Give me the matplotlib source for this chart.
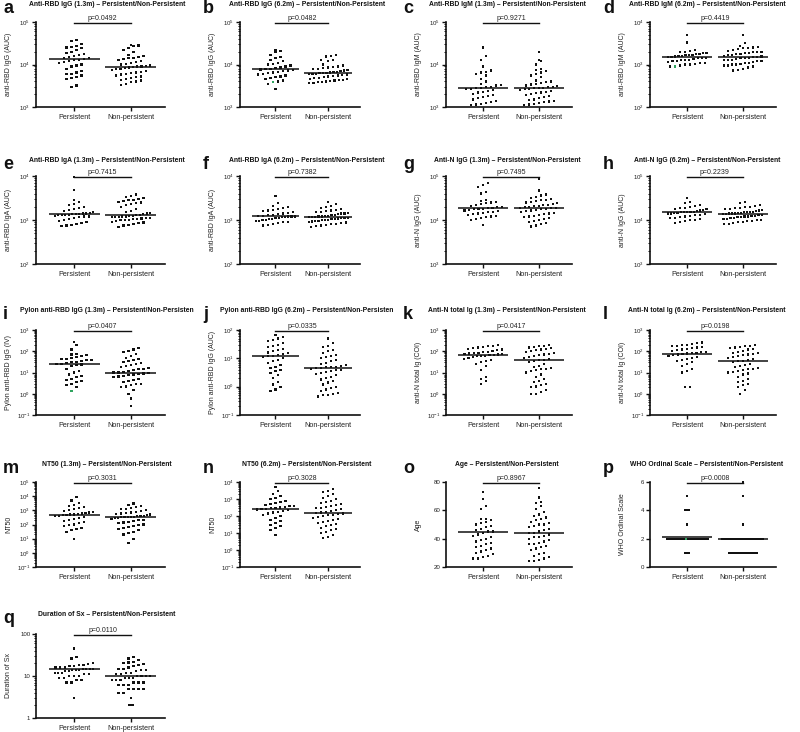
import numpy as np
import matplotlib
matplotlib.use("Agg")
import matplotlib.pyplot as plt
from matplotlib.ticker import LogLocator, NullFormatter, FuncFormatter, FixedLocator
import matplotlib.transforms as mtransforms

plt.rcParams['font.family'] = ['Liberation Sans', 'DejaVu Sans']

groups = ["Persistent", "Non-persistent"]

# ---------------- data ----------------
a_p = [37000, 35000, 30000, 27000, 26000, 25000, 24000, 22000, 20000, 19000, 18000, 17000, 16000, 15000, 14500, 14000, 13500, 13000, 12500, 12000, 11500, 11000, 10000, 9500, 9000, 8000, 7000, 6500, 6000, 6000, 5500, 5000, 4800, 4500, 3200, 3000]
a_np = [29000, 28000, 27000, 24000, 22000, 20000, 17000, 16000, 15000, 14500, 14000, 13500, 13000, 12000, 11500, 11000, 10500, 10000, 9500, 9200, 9000, 9000, 8800, 8500, 8300, 8000, 7800, 7500, 7000, 6800, 6500, 6200, 6000, 5800, 5500, 5200, 5000, 4800, 4500, 4300, 4200, 4000, 3800, 3500, 3300]
b_p = [22000, 21000, 20000, 17000, 15000, 14000, 13000, 12000, 11000, 10500, 10000, 9500, 9000, 8500, 8200, 8000, 7800, 7600, 7400, 7200, 7000, 6800, 6500, 6200, 6000, 5800, 5500, 5200, 5000, 4800, 4500, 4200, 4000, 3800, 3500, 2600]
b_np = [16500, 16000, 15500, 13000, 12500, 12000, 10000, 9500, 9000, 8800, 8500, 8200, 8000, 7800, 7500, 7200, 7000, 6800, 6600, 6500, 6400, 6300, 6200, 6100, 6000, 5900, 5800, 5600, 5500, 5300, 5200, 5000, 4900, 4800, 4600, 4500, 4400, 4300, 4200, 4100, 4000, 3900, 3800, 3700, 3600]
c_p = [25000, 16000, 13000, 9000, 7200, 6800, 6500, 6000, 5500, 4500, 4000, 3500, 3300, 3200, 3000, 2900, 2800, 2800, 2700, 2600, 2500, 2400, 2300, 2200, 2000, 1900, 1800, 1700, 1600, 1500, 1400, 1300, 1250, 1200, 1150, 1100]
c_np = [20000, 13000, 12000, 10000, 8000, 7500, 7000, 6500, 6000, 5500, 5000, 4200, 4000, 3800, 3600, 3500, 3400, 3200, 3100, 3000, 2900, 2850, 2800, 2750, 2700, 2600, 2500, 2400, 2300, 2200, 2100, 2000, 1900, 1800, 1700, 1600, 1500, 1450, 1400, 1350, 1300, 1250, 1200, 1150, 1100]
d_p = [5000, 3300, 2200, 2100, 2000, 2000, 1900, 1900, 1800, 1800, 1700, 1700, 1650, 1600, 1600, 1550, 1500, 1500, 1450, 1400, 1400, 1350, 1300, 1300, 1250, 1200, 1200, 1150, 1100, 1100, 1050, 1000, 1000, 950, 900, 900]
d_np = [5000, 3200, 2700, 2600, 2500, 2400, 2400, 2300, 2200, 2100, 2000, 2000, 1950, 1900, 1850, 1800, 1750, 1700, 1650, 1600, 1550, 1500, 1500, 1450, 1400, 1400, 1350, 1300, 1300, 1250, 1200, 1200, 1150, 1100, 1100, 1050, 1000, 1000, 950, 950, 900, 850, 800, 750, 720]
e_p = [9300, 4800, 2900, 2600, 2300, 2200, 2000, 1900, 1800, 1700, 1600, 1500, 1450, 1400, 1400, 1380, 1350, 1350, 1320, 1300, 1300, 1280, 1250, 1200, 1200, 1150, 1100, 1050, 1000, 950, 900, 850, 800, 780, 750, 720]
e_np = [3800, 3500, 3300, 3200, 3000, 2900, 2800, 2700, 2600, 2500, 2400, 2300, 2200, 2000, 1800, 1600, 1500, 1450, 1400, 1350, 1300, 1280, 1250, 1250, 1200, 1200, 1180, 1150, 1150, 1100, 1100, 1080, 1050, 1050, 1000, 1000, 980, 950, 900, 880, 850, 800, 780, 750, 700]
f_p = [3500, 2400, 2100, 2000, 1900, 1800, 1700, 1650, 1600, 1500, 1450, 1400, 1350, 1300, 1300, 1250, 1250, 1200, 1200, 1200, 1150, 1150, 1100, 1100, 1050, 1050, 1000, 1000, 950, 950, 900, 900, 850, 800, 780, 750]
f_np = [2600, 2300, 2100, 2000, 1900, 1800, 1700, 1650, 1600, 1550, 1500, 1450, 1400, 1400, 1350, 1300, 1300, 1250, 1250, 1200, 1200, 1180, 1150, 1150, 1120, 1100, 1100, 1080, 1050, 1050, 1000, 1000, 980, 950, 950, 920, 900, 880, 850, 820, 800, 780, 750, 720, 700]
g_p = [68000, 62000, 57000, 44000, 40000, 28000, 27000, 26000, 25000, 24000, 23000, 22000, 21000, 20000, 19500, 19000, 18500, 18000, 18000, 17500, 17000, 16500, 16000, 15500, 15000, 14500, 14000, 13500, 13000, 12500, 12000, 11500, 11000, 10500, 10000, 7800]
g_np = [84000, 47000, 38000, 36000, 34000, 32000, 30000, 29000, 28000, 27000, 26000, 25000, 24000, 23000, 22000, 21500, 21000, 20500, 20000, 19500, 19000, 18500, 18500, 18000, 17500, 17000, 16500, 16000, 15000, 14500, 14000, 13500, 13000, 12500, 12000, 11500, 11000, 10500, 10000, 9500, 9000, 8500, 8000, 7500, 7100]
h_p = [32000, 26000, 24000, 22000, 21000, 20000, 19000, 18500, 18000, 17500, 17000, 16500, 16000, 15500, 15500, 15000, 15000, 15000, 14500, 14500, 14000, 14000, 13500, 13000, 13000, 12500, 12000, 11500, 11000, 11000, 10500, 10000, 10000, 9500, 9000, 8500]
h_np = [26000, 24000, 22000, 21000, 20000, 19500, 19000, 18500, 18000, 17500, 17000, 16500, 16000, 15500, 15500, 15000, 15000, 14500, 14500, 14000, 14000, 14000, 13500, 13500, 13000, 13000, 12500, 12500, 12000, 12000, 11500, 11500, 11000, 11000, 10500, 10500, 10000, 10000, 9500, 9500, 9000, 9000, 8500, 8200, 8000]
i_p = [270, 190, 120, 75, 70, 65, 60, 55, 50, 45, 42, 40, 38, 35, 32, 30, 28, 26, 25, 24, 22, 20, 15, 12, 10, 8, 7, 6, 5, 4.5, 4, 3.5, 3, 2.5, 2, 1.3]
i_np = [140, 120, 100, 90, 75, 60, 50, 45, 40, 35, 30, 28, 25, 22, 20, 18, 16, 15, 14, 13, 12, 11, 10, 10, 9.5, 9, 8.5, 8, 7.5, 7, 6.5, 6, 5, 4.5, 4, 3.5, 3, 2.8, 2.5, 2.2, 2, 1.5, 1, 0.6, 0.26]
j_p = [65, 55, 50, 45, 40, 35, 30, 28, 25, 22, 20, 18, 16, 15, 14, 13, 12, 12, 11, 10, 9, 8, 7, 6, 5, 4.5, 4, 3.5, 3, 2.5, 2, 1.5, 1.2, 1, 0.8, 0.7]
j_np = [50, 35, 28, 25, 20, 18, 15, 13, 12, 11, 10, 9, 8, 7, 6.5, 6, 5.5, 5, 5, 4.8, 4.5, 4.5, 4.2, 4, 3.8, 3.5, 3.2, 3, 2.8, 2.5, 2.2, 2, 1.8, 1.6, 1.4, 1.2, 1, 0.9, 0.8, 0.7, 0.6, 0.55, 0.5, 0.5, 0.45]
k_p = [200, 180, 170, 160, 150, 140, 130, 120, 110, 100, 95, 90, 85, 80, 78, 75, 72, 70, 68, 65, 62, 60, 58, 55, 50, 45, 40, 35, 30, 25, 20, 13, 6, 5, 4, 3]
k_np = [190, 180, 170, 160, 150, 140, 130, 120, 110, 100, 90, 80, 75, 70, 65, 60, 55, 50, 45, 40, 38, 35, 30, 25, 20, 18, 16, 15, 14, 13, 12, 10, 8, 6, 5, 4, 3.5, 3, 2.5, 2.2, 2, 1.5, 1.2, 1, 1]
l_p = [260, 240, 220, 200, 190, 180, 170, 160, 150, 140, 130, 120, 110, 100, 95, 90, 85, 80, 78, 75, 70, 65, 60, 55, 50, 45, 40, 35, 30, 25, 20, 15, 12, 10, 2, 2]
l_np = [190, 180, 170, 160, 150, 140, 130, 120, 100, 90, 85, 80, 75, 70, 65, 60, 55, 50, 45, 40, 35, 34, 30, 25, 22, 20, 18, 16, 15, 14, 13, 12, 11, 10, 9, 8, 6, 5, 4, 3.5, 3, 2.5, 2, 1.5, 1]
m_p = [9000, 5000, 3500, 2500, 2000, 1800, 1500, 1200, 1000, 900, 800, 700, 650, 600, 550, 500, 500, 480, 450, 420, 400, 350, 300, 250, 200, 180, 150, 120, 100, 90, 80, 60, 50, 40, 30, 10]
m_np = [3000, 2500, 2000, 1800, 1500, 1300, 1200, 1000, 900, 800, 700, 650, 600, 550, 500, 450, 420, 400, 380, 360, 350, 340, 330, 320, 300, 280, 250, 220, 200, 180, 160, 140, 120, 100, 90, 80, 70, 60, 50, 40, 30, 25, 20, 10, 5]
n_p = [5000, 3000, 2000, 1500, 1200, 1000, 800, 700, 600, 500, 450, 400, 380, 350, 320, 300, 280, 260, 250, 240, 220, 200, 180, 160, 140, 120, 100, 80, 60, 50, 40, 30, 25, 20, 15, 8]
n_np = [4000, 3000, 2500, 2000, 1500, 1200, 1000, 800, 700, 600, 500, 450, 400, 350, 300, 280, 250, 220, 200, 180, 160, 150, 140, 130, 120, 110, 100, 90, 80, 70, 60, 50, 45, 40, 35, 30, 25, 20, 18, 15, 12, 10, 8, 6, 5]
o_p = [73, 68, 63, 61, 54, 54, 53, 52, 51, 50, 49, 48, 47, 46, 45, 45, 44, 43, 42, 41, 40, 39, 38, 37, 36, 35, 34, 33, 32, 31, 30, 29, 28, 27, 26, 26]
o_np = [76, 69, 66, 65, 63, 61, 59, 57, 56, 55, 54, 53, 52, 51, 50, 50, 49, 48, 47, 46, 45, 44, 44, 43, 42, 41, 41, 40, 39, 38, 37, 36, 36, 35, 34, 33, 32, 30, 29, 28, 27, 26, 25, 24, 24]
p_p = [5, 4, 4, 4, 3] + [2] * 28 + [1, 1, 1]
p_np = [6, 5, 3] + [2] * 27 + [1] * 15
q_p = [45, 28, 26, 20, 19, 18, 18, 17, 17, 16, 16, 16, 15, 15, 15, 15, 14, 14, 14, 13, 13, 12, 12, 12, 11, 11, 10, 10, 10, 9, 9, 8, 8, 7, 7, 3]
q_np = [28, 26, 24, 22, 21, 20, 19, 18, 17, 16, 15, 15, 14, 14, 13, 12, 12, 11, 11, 10, 10, 10, 10, 9, 9, 9, 8, 8, 8, 7, 7, 7, 6, 6, 6, 5, 5, 5, 5, 4, 4, 3, 2, 2, 2]

# center (median) lines: [Persistent, Non-persistent]
centers = {
    'a': [13300, 8900], 'b': [7700, 6400], 'c': [2750, 2750], 'd': [1500, 1500],
    'e': [1350, 1280], 'f': [1230, 1180], 'g': [18600, 18600], 'h': [15000, 14000],
    'i': [26, 10], 'j': [12, 4.5], 'k': [68, 39], 'l': [78, 35],
    'm': [500, 350], 'n': [250, 150], 'o': [45, 44.3], 'p': [2.15, 2.0], 'q': [15, 10],
}
pvals = {'a': '0.0492', 'b': '0.0482', 'c': '0.9271', 'd': '0.4419', 'e': '0.7415', 'f': '0.7382',
         'g': '0.7495', 'h': '0.2239', 'i': '0.0407', 'j': '0.0335', 'k': '0.0417', 'l': '0.0198',
         'm': '0.3031', 'n': '0.3028', 'o': '0.8967', 'p': '0.0008', 'q': '0.0110'}
titles = {
    'a': "Anti-RBD IgG (1.3m) – Persistent/Non-Persistent",
    'b': "Anti-RBD IgG (6.2m) – Persistent/Non-Persistent",
    'c': "Anti-RBD IgM (1.3m) – Persistent/Non-Persistent",
    'd': "Anti-RBD IgM (6.2m) – Persistent/Non-Persistent",
    'e': "Anti-RBD IgA (1.3m) – Persistent/Non-Persistent",
    'f': "Anti-RBD IgA (6.2m) – Persistent/Non-Persistent",
    'g': "Anti-N IgG (1.3m) – Persistent/Non-Persistent",
    'h': "Anti-N IgG (6.2m) – Persistent/Non-Persistent",
    'i': "Pylon anti-RBD IgG (1.3m) – Persistent/Non-Persisten",
    'j': "Pylon anti-RBD IgG (6.2m) – Persistent/Non-Persisten",
    'k': "Anti-N total Ig (1.3m) – Persistent/Non-Persistent",
    'l': "Anti-N total Ig (6.2m) – Persistent/Non-Persistent",
    'm': "NT50 (1.3m) – Persistent/Non-Persistent",
    'n': "NT50 (6.2m) – Persistent/Non-Persistent",
    'o': "Age – Persistent/Non-Persistent",
    'p': "WHO Ordinal Scale – Persistent/Non-Persistent",
    'q': "Duration of Sx – Persistent/Non-Persistent",
}
ylabels = {
    'a': "anti-RBD IgG (AUC)", 'b': "anti-RBD IgG (AUC)", 'c': "anti-RBD IgM (AUC)", 'd': "anti-RBD IgM (AUC)",
    'e': "anti-RBD IgA (AUC)", 'f': "anti-RBD IgA (AUC)", 'g': "anti-N IgG (AUC)", 'h': "anti-N IgG (AUC)",
    'i': "Pylon anti-RBD IgG (IV)", 'j': "Pylon anti-RBD IgG (AUC)", 'k': "anti-N total Ig (COI)",
    'l': "anti-N total Ig (COI)", 'm': "NT50", 'n': "NT50", 'o': "Age", 'p': "WHO Ordinal Scale",
    'q': "Duration of Sx",
}
ylims = {
    'a': (1e3, 1e5), 'b': (1e3, 1e5), 'c': (1e3, 1e5), 'd': (1e2, 1e4), 'e': (1e2, 1e4), 'f': (1e2, 1e4),
    'g': (1e3, 1e5), 'h': (1e3, 1e5), 'i': (1e-1, 1e3), 'j': (1e-1, 1e2), 'k': (1e-1, 1e3), 'l': (1e-1, 1e3),
    'm': (1e-1, 1e5), 'n': (1e-1, 1e4), 'o': (20, 80), 'p': (0, 6), 'q': (1, 100),
}
green_point = {'b': 3800, 'd': 900, 'i': 1.3, 'p': 2}
data = {
    'a': (a_p, a_np), 'b': (b_p, b_np), 'c': (c_p, c_np), 'd': (d_p, d_np), 'e': (e_p, e_np),
    'f': (f_p, f_np), 'g': (g_p, g_np), 'h': (h_p, h_np), 'i': (i_p, i_np), 'j': (j_p, j_np),
    'k': (k_p, k_np), 'l': (l_p, l_np), 'm': (m_p, m_np), 'n': (n_p, n_np), 'o': (o_p, o_np),
    'p': (p_p, p_np), 'q': (q_p, q_np),
}

# ---------------- layout (pixels) ----------------
FW, FH = 800, 732
fig = plt.figure(figsize=(FW / 100, FH / 100), dpi=100)
col_x = [(36, 165), (240, 360), (446, 572), (650, 776)]
col_start = [0, 200, 400, 600]
row_y = [(22, 107), (176, 264), (330, 415), (482, 567), (634, 718)]
row_title = [5, 161, 311, 465, 615]
XLIM = (0.33, 2.60)


def swarm_offsets(vals, ylim, logscale, hpx, wpx):
    v = np.asarray(vals, float)
    if logscale:
        t = np.log10(v); t0, t1 = np.log10(ylim[0]), np.log10(ylim[1])
    else:
        t = v; t0, t1 = ylim
    ypx = (t - t0) / (t1 - t0) * hpx
    order = np.argsort(ypx, kind='stable')
    offs = np.zeros(len(v))
    groups_ = []
    cur = [order[0]]
    for idx in order[1:]:
        if ypx[idx] - ypx[cur[0]] <= 4.5:
            cur.append(idx)
        else:
            groups_.append(cur); cur = [idx]
    groups_.append(cur)
    for g in groups_:
        k = len(g)
        tied = k >= 3 and np.all(v[g] == v[g[0]])
        sp = min(2.0 if tied else 5.0, 42.0 / k)
        for j, idx in enumerate(g):
            offs[idx] = (j - (k - 1) / 2) * sp
    return offs * (XLIM[1] - XLIM[0]) / wpx


letters = list('abcdefghijklmnopq')
for n, L in enumerate(letters):
    r, c = divmod(n, 4)
    x0, x1 = col_x[c]
    y0, y1 = row_y[r]
    ax = fig.add_axes([x0 / FW, 1 - y1 / FH, (x1 - x0) / FW, (y1 - y0) / FH])
    ylim = ylims[L]
    logscale = L not in ('o', 'p')
    if logscale:
        ax.set_yscale('log')
    ax.set_xlim(*XLIM)
    ax.set_ylim(*ylim)
    wpx, hpx = x1 - x0, y1 - y0
    for gi, vals in enumerate(data[L]):
        xc = gi + 1
        offs = swarm_offsets(vals, ylim, logscale, hpx, wpx)
        cols = ['#111111'] * len(vals)
        zs = np.full(len(vals), 3.0)
        if gi == 0 and L in green_point:
            cands = [ii for ii, vv in enumerate(vals) if vv == green_point[L]]
            gidx = min(cands, key=lambda ii: abs(offs[ii]))
            cols[gidx] = '#2fa35f'
        xs = xc + offs
        ax.scatter(xs, vals, s=2.5, marker='s', c=cols, linewidths=0, zorder=3, clip_on=False)
        if gi == 0 and L in green_point:
            ax.scatter([xs[gidx]], [vals[gidx]], s=2.5, marker='s', c='#2fa35f', linewidths=0, zorder=5,
                       clip_on=False)
        ax.plot([xc - 0.45, xc + 0.45], [centers[L][gi]] * 2, color='#111111', lw=1.1, zorder=4,
                solid_capstyle='butt')
    # spines
    for s in ('top', 'right'):
        ax.spines[s].set_visible(False)
    for s in ('left', 'bottom'):
        ax.spines[s].set_linewidth(1.2)
        ax.spines[s].set_color('#111111')
    ax.set_xticks([1, 2])
    ax.set_xticklabels(groups, fontsize=5.2, color='#222222')
    ax.tick_params(axis='x', length=3, width=1, pad=2, colors='#111111', labelcolor='#222222')
    ax.tick_params(axis='y', which='major', length=3, width=1, pad=1, labelsize=4.4, colors='#111111',
                   labelcolor='#222222')
    ax.tick_params(axis='y', which='minor', length=1.8, width=0.7, colors='#111111')
    if logscale:
        ax.yaxis.set_major_locator(LogLocator(base=10, numticks=30))
        ax.yaxis.set_minor_locator(LogLocator(base=10, subs=np.arange(2, 10), numticks=200))
        ax.yaxis.set_minor_formatter(NullFormatter())
        if L == 'q':
            ax.yaxis.set_major_formatter(FuncFormatter(lambda v, p: f'{v:g}'))
    elif L == 'o':
        ax.yaxis.set_major_locator(FixedLocator([20, 40, 60, 80]))
    else:
        ax.yaxis.set_major_locator(FixedLocator([0, 2, 4, 6]))
    ax.set_ylabel(ylabels[L], fontsize=5, color='#222222')
    ax.yaxis.set_label_coords(-24 / wpx, 0.5)
    # p-value bar
    tr = mtransforms.blended_transform_factory(ax.transData, ax.transAxes)
    ax.plot([1, 2], [0.985, 0.985], transform=tr, color='#111111', lw=1.0, clip_on=False)
    ax.annotate('p=' + pvals[L], xy=(1.5, 0.985), xycoords=tr, xytext=(0, 0.8), textcoords='offset points',
                ha='center', va='bottom', fontsize=5, color='#222222')
    # title & letter
    cs = col_start[c]
    ty = row_title[r]
    fig.text((cs + 107) / FW, 1 - ty / FH, titles[L], ha='center', va='center', fontsize=4.9,
             fontweight='bold', color='#111111')
    fig.text((cs + 3) / FW, 1 - (ty + 8) / FH, L, ha='left', va='baseline', fontsize=13,
             fontweight='bold', color='#111111')

fig.savefig('out.png', dpi=100, facecolor='white')
